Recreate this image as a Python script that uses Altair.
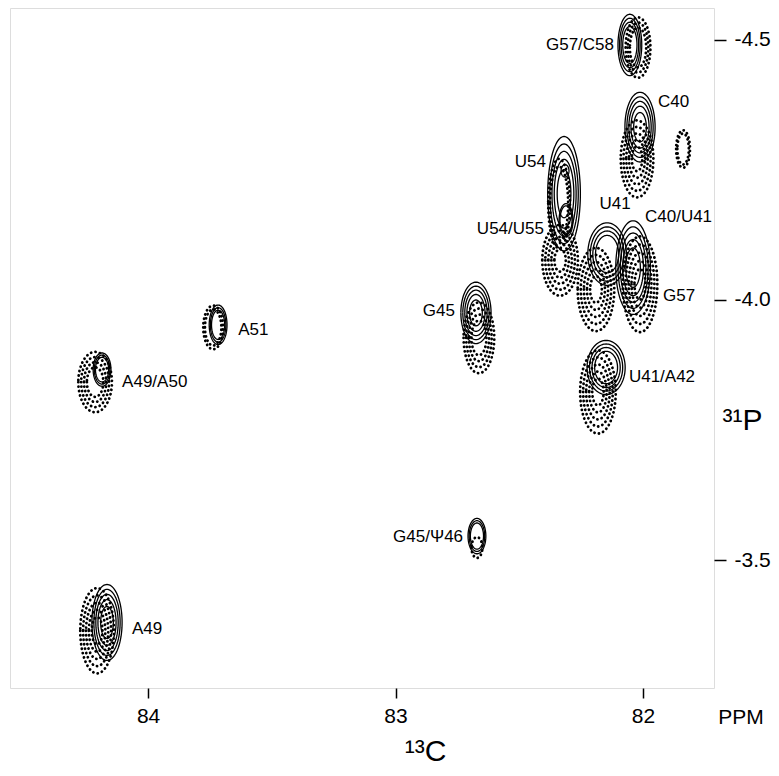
import altair as alt
import numpy as np
import pandas as pd

# ---- axis ranges (ppm) ----
X_DOMAIN = [81.713, 84.558]      # 13C, drawn reversed
Y_DOMAIN = [-4.561, -3.254]      # 31P, drawn reversed
X_TICKS = [84, 83, 82]
Y_TICKS = [-4.5, -4.0, -3.5]

# ---- solid contour peaks ----
solid_names = ["G57/C58", "C40", "U54", "U54a", "U54b", "U41", "G57",
               "G45", "U41/A42", "G45/Psi46", "A51", "A49/A50", "A49"]
solid_x = [82.053, 82.012, 82.319, 82.315, 82.311, 82.145, 82.040,
           82.675, 82.149, 82.671, 83.717, 84.186, 84.166]
solid_y = [-4.490, -4.332, -4.204, -4.248, -4.153, -4.088, -4.062,
           -3.975, -3.870, -3.546, -3.952, -3.866, -3.380]
solid_rx = [0.048, 0.061, 0.066, 0.016, 0.028, 0.078, 0.070,
            0.061, 0.077, 0.036, 0.036, 0.036, 0.061]
solid_ry = [0.059, 0.067, 0.110, 0.012, 0.032, 0.060, 0.090,
            0.059, 0.052, 0.034, 0.038, 0.032, 0.073]
solid_levels = [4, 5, 5, 1, 2, 4, 5, 5, 4, 3, 3, 3, 5]

# ---- dotted contour peaks ----
dot_names = ["G57/C58", "C40", "side", "U54col", "U54", "U41", "G57",
             "G45", "U41/A42", "G45/Psi46", "A51", "A49/A50", "A49"]
dot_x = [82.020, 82.024, 81.838, 82.339, 82.335, 82.190, 82.012,
         82.663, 82.182, 82.671, 83.737, 84.214, 84.206]
dot_y = [-4.485, -4.271, -4.290, -4.185, -4.076, -4.020, -4.030,
         -3.927, -3.823, -3.524, -3.947, -3.842, -3.364]
dot_rx = [0.050, 0.066, 0.028, 0.044, 0.072, 0.074, 0.070,
          0.062, 0.072, 0.022, 0.040, 0.068, 0.068]
dot_ry = [0.058, 0.074, 0.036, 0.086, 0.068, 0.080, 0.092,
          0.068, 0.080, 0.020, 0.042, 0.058, 0.082]
dot_levels = [3, 5, 2, 2, 5, 5, 5, 4, 5, 1, 2, 4, 5]

# ---- peak labels ----
label_text = ["G57/C58", "C40", "U54", "U41", "C40/U41", "U54/U55", "G57",
              "G45", "A51", "A49/A50", "U41/A42", "G45/\u03a846", "A49"]
label_x = [82.109, 81.947, 82.384, 82.113, 82.000, 82.392, 81.927,
           82.752, 83.644, 84.113, 82.065, 82.719, 84.073]
label_y = [-4.490, -4.380, -4.265, -4.185, -4.160, -4.137, -4.008,
           -3.979, -3.943, -3.842, -3.851, -3.544, -3.368]
label_align = ["right", "left", "right", "center", "left", "right", "left",
               "right", "left", "left", "left", "right", "left"]

SOLID_SCALES = [1.0, 0.87, 0.74, 0.6, 0.42, 0.15]
DOT_SCALES = [1.0, 0.83, 0.66, 0.49, 0.32, 0.15]


def contour_rows(prefix, names, xs, ys, rxs, rys, levels, scales):
    t = np.linspace(0, 2 * np.pi, 97)
    rows = []
    for i in range(len(names)):
        for k in range(levels[i]):
            s = scales[k]
            for j, tt in enumerate(t):
                rows.append({
                    "cid": f"{prefix}-{i}-{k}",
                    "x": xs[i] + rxs[i] * s * np.cos(tt),
                    "y": ys[i] + rys[i] * s * np.sin(tt),
                    "o": j,
                })
    return pd.DataFrame(rows)


solid_df = contour_rows("s", solid_names, solid_x, solid_y, solid_rx, solid_ry,
                        solid_levels, SOLID_SCALES)
dot_df = contour_rows("d", dot_names, dot_x, dot_y, dot_rx, dot_ry, dot_levels, DOT_SCALES)
label_df = pd.DataFrame({"text": label_text, "x": label_x, "y": label_y, "align": label_align})

FONT = "Liberation Sans"

xscale = alt.Scale(domain=X_DOMAIN, reverse=True, nice=False, zero=False)
yscale = alt.Scale(domain=Y_DOMAIN, reverse=True, nice=False, zero=False)

xaxis = alt.Axis(values=X_TICKS, format="d", orient="bottom", grid=False, domain=False,
                 tickSize=10, tickWidth=1.5, tickColor="black", labelFontSize=21,
                 labelFont=FONT, labelColor="black", labelPadding=7,
                 title="\u00b9\u00b3C", titleFont=FONT, titleFontSize=30, titleFontWeight="normal",
                 titleColor="black", titleX=415, titleY=72, titleBaseline="alphabetic",
                 titleAlign="center")
yaxis = alt.Axis(values=Y_TICKS, orient="right", grid=False, domain=False,
                 labelExpr="'-' + format(-datum.value, '.1f')",
                 tickSize=12, tickWidth=1.5, tickColor="black", labelFontSize=21,
                 labelFont=FONT, labelColor="black", labelPadding=8,
                 title="\u00b3\u00b9P", titleFont=FONT, titleFontSize=30, titleFontWeight="normal",
                 titleColor="black", titleAngle=0, titleX=8, titleY=412,
                 titleAlign="left", titleBaseline="middle")

solid = alt.Chart(solid_df).mark_line(color="black", strokeWidth=1.3).encode(
    x=alt.X("x:Q", scale=xscale, axis=xaxis),
    y=alt.Y("y:Q", scale=yscale, axis=yaxis),
    detail="cid:N",
    order="o:Q",
)

dotted = alt.Chart(dot_df).mark_line(color="black", strokeWidth=2.8, strokeDash=[0.1, 4.4],
                                     strokeCap="round").encode(
    x=alt.X("x:Q", scale=xscale),
    y=alt.Y("y:Q", scale=yscale),
    detail="cid:N",
    order="o:Q",
)

layers = []
for al in ["left", "right", "center"]:
    layers.append(
        alt.Chart(label_df).transform_filter(alt.datum.align == al).mark_text(
            align=al, baseline="middle", font=FONT, fontSize=17, color="black",
            dx={"left": 2, "right": -2, "center": 0}[al]
        ).encode(x=alt.X("x:Q", scale=xscale), y=alt.Y("y:Q", scale=yscale), text="text:N")
    )

ppm = alt.Chart(pd.DataFrame({"t": ["PPM"]})).mark_text(
    font=FONT, fontSize=21, color="black", align="center", baseline="middle"
).encode(x=alt.value(731), y=alt.value(710), text="t:N")

chart = alt.layer(dotted, solid, *layers, ppm).properties(
    width=704, height=680,
    autosize=alt.AutoSizeParams(type="none"),
    padding={"left": 2, "top": 0, "right": 57, "bottom": 80},
).configure_view(stroke="black", strokeWidth=1.5).configure(background="white")

chart.save("out.html", embed_options={"renderer": "svg", "actions": False})
